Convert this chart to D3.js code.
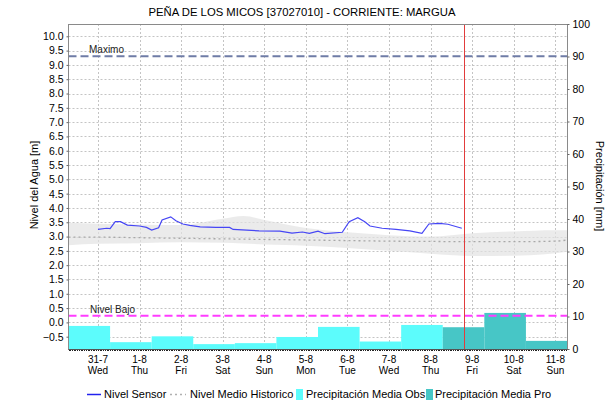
<!DOCTYPE html>
<html>
<head>
<meta charset="utf-8">
<script src="https://cdn.jsdelivr.net/npm/d3@7"></script>
<style>
  html, body { margin: 0; padding: 0; background: #fff; }
  svg { display: block; font-family: "Liberation Sans", Arial, sans-serif; }
</style>
</head>
<body>
<svg id="chart" width="616" height="404"></svg>
<script>
// Station and series
const titleText = "PEÑA DE LOS MICOS [37027010] - CORRIENTE: MARGUA";

// Sensor level readings: hours after 31-7 00:00, level in metres
const sensorHours  = [0, 5, 7, 10, 13, 17, 24, 28, 31, 35, 37, 42, 45, 49, 53, 59, 68, 76, 78, 93, 105, 112, 118, 122, 127, 131, 141, 145, 150, 154, 157, 164, 172, 180, 187, 191, 197, 202, 210];
const sensorLevels = [3.25, 3.29, 3.28, 3.52, 3.52, 3.40, 3.37, 3.32, 3.23, 3.31, 3.58, 3.69, 3.55, 3.44, 3.39, 3.34, 3.32, 3.32, 3.25, 3.20, 3.19, 3.12, 3.16, 3.11, 3.19, 3.10, 3.15, 3.52, 3.66, 3.52, 3.37, 3.29, 3.25, 3.20, 3.11, 3.44, 3.46, 3.43, 3.29];

// Historic mean level and its band
const histHours = [-17, 0, 24, 48, 72, 84, 96, 120, 144, 168, 192, 216, 240, 264, 271];
const histMean  = [2.98, 2.98, 2.96, 2.94, 2.92, 2.91, 2.90, 2.88, 2.86, 2.84, 2.83, 2.82, 2.82, 2.84, 2.88];
const histUpper = [3.48, 3.45, 3.42, 3.40, 3.62, 3.72, 3.58, 3.30, 3.15, 3.05, 3.00, 3.12, 3.18, 3.22, 3.22];
const histLower = [2.70, 2.75, 2.77, 2.80, 2.78, 2.76, 2.72, 2.68, 2.60, 2.50, 2.40, 2.32, 2.33, 2.42, 2.47];

// Daily precipitation (07:00 to 07:00), mm
const precipObs = [7.1, 2.1, 3.9, 1.5, 1.8, 3.7, 6.8, 2.3, 7.4];
const precipPro = [6.7, 11.1, 2.5];

// Reference levels (m)
const nivelMaximo = 9.3;
const nivelBajo = 0.23;

// Current time marker: hours after 31-7 00:00
const nowHour = 211;

const leftTicks = d3.range(-0.5, 10.01, 0.5);
const rightTicks = d3.range(0, 101, 10);

// Layout
const plot = { left: 68.5, right: 567.5, top: 24, bottom: 349 };

const svg = d3.select("#chart");
const base = new Date(2024, 6, 31, 0, 0);
const t = h => d3.timeHour.offset(base, h);
const start = t(-17), end = t(271);

const x = d3.scaleTime().domain([start, end]).range([plot.left, plot.right]);
const yL = d3.scaleLinear().domain([-0.93, 10.43]).range([plot.bottom, plot.top]);
const yR = d3.scaleLinear().domain([0, 100]).range([plot.bottom, plot.top]);
const crisp = v => Math.round(v) + 0.5;

// Title
svg.append("text")
  .attr("x", 302).attr("y", 16)
  .attr("text-anchor", "middle")
  .attr("font-size", 11.3)
  .attr("fill", "#000")
  .text(titleText);

// Grid
const grid = svg.append("g").attr("stroke", "#c4c4c4").attr("stroke-dasharray", "2,2").attr("stroke-width", 1);
leftTicks.forEach(v => {
  grid.append("line")
    .attr("x1", plot.left).attr("x2", plot.right)
    .attr("y1", crisp(yL(v))).attr("y2", crisp(yL(v)));
});
const days = d3.timeDay.range(t(0), t(271));
days.forEach(d => {
  grid.append("line")
    .attr("x1", crisp(x(d))).attr("x2", crisp(x(d)))
    .attr("y1", plot.top).attr("y2", plot.bottom);
});

// Historic band
const histPts = histHours.map((h, i) => ({ d: t(h), m: histMean[i], u: histUpper[i], l: histLower[i] }));
svg.append("path")
  .datum(histPts)
  .attr("fill", "#e3e3e3")
  .attr("fill-opacity", 0.7)
  .attr("d", d3.area().x(p => x(p.d)).y0(p => yL(p.l)).y1(p => yL(p.u)).curve(d3.curveMonotoneX));

// Precipitation bars (right axis)
const barStart = i => d3.timeHour.offset(start, 24 * i);
const bars = svg.append("g");
precipObs.forEach((v, i) => {
  bars.append("rect")
    .attr("x", x(barStart(i))).attr("width", x(barStart(i + 1)) - x(barStart(i)))
    .attr("y", yR(v)).attr("height", yR(0) - yR(v))
    .attr("fill", "#5cfcfc");
});
precipPro.forEach((v, j) => {
  const i = precipObs.length + j;
  bars.append("rect")
    .attr("x", x(barStart(i))).attr("width", x(barStart(i + 1)) - x(barStart(i)))
    .attr("y", yR(v)).attr("height", yR(0) - yR(v))
    .attr("fill", "#47c6c6");
});

// Historic mean line
svg.append("path")
  .datum(histPts)
  .attr("fill", "none")
  .attr("stroke", "#a8a8a8")
  .attr("stroke-width", 1.3)
  .attr("stroke-dasharray", "2,3")
  .attr("d", d3.line().x(p => x(p.d)).y(p => yL(p.m)).curve(d3.curveMonotoneX));

// Sensor level
const sensorPts = sensorHours.map((h, i) => ({ d: t(h), v: sensorLevels[i] }));
svg.append("path")
  .datum(sensorPts)
  .attr("fill", "none")
  .attr("stroke", "#4646f5")
  .attr("stroke-width", 1.2)
  .attr("d", d3.line().x(p => x(p.d)).y(p => yL(p.v)));

// Reference levels
svg.append("line")
  .attr("x1", plot.left).attr("x2", plot.right)
  .attr("y1", yL(nivelMaximo)).attr("y2", yL(nivelMaximo))
  .attr("stroke", "#6f7ca6").attr("stroke-width", 2).attr("stroke-dasharray", "8,4");
svg.append("text")
  .attr("x", 89).attr("y", yL(nivelMaximo) - 3)
  .attr("font-size", 10).attr("fill", "#222").text("Maximo");

svg.append("line")
  .attr("x1", plot.left).attr("x2", plot.right)
  .attr("y1", yL(nivelBajo)).attr("y2", yL(nivelBajo))
  .attr("stroke", "#ff3cff").attr("stroke-width", 2).attr("stroke-dasharray", "8,4");
svg.append("text")
  .attr("x", 90).attr("y", yL(nivelBajo) - 3)
  .attr("font-size", 10).attr("fill", "#222").text("Nivel Bajo");

// Frame
svg.append("rect")
  .attr("x", plot.left).attr("y", plot.top + 0.5)
  .attr("width", plot.right - plot.left).attr("height", plot.bottom - plot.top)
  .attr("fill", "none").attr("stroke", "#8a8a8a").attr("stroke-width", 1);

// Current time marker
svg.append("line")
  .attr("x1", crisp(x(t(nowHour)))).attr("x2", crisp(x(t(nowHour))))
  .attr("y1", plot.top + 1).attr("y2", plot.bottom)
  .attr("stroke", "#e23c3c").attr("stroke-width", 1);

// Left axis
const axL = svg.append("g").attr("transform", `translate(${plot.left},0)`)
  .call(d3.axisLeft(yL).tickValues(leftTicks).tickSize(2).tickPadding(3).tickFormat(d3.format(".1f")));
axL.select(".domain").remove();
axL.selectAll(".tick line").attr("stroke", "#666");
axL.selectAll("text").attr("font-size", 10.5).attr("font-family", "Liberation Sans, Arial, sans-serif").attr("fill", "#000");

// Right axis
const axR = svg.append("g").attr("transform", `translate(${plot.right},0)`)
  .call(d3.axisRight(yR).tickValues(rightTicks).tickSize(2).tickPadding(3));
axR.select(".domain").remove();
axR.selectAll(".tick line").attr("stroke", "#666");
axR.selectAll("text").attr("font-size", 10.5).attr("font-family", "Liberation Sans, Arial, sans-serif").attr("fill", "#000");

// Bottom axis: hourly minor ticks and two-line day labels
const hours = d3.timeHour.range(start, end);
svg.append("g").selectAll("line").data(hours).join("line")
  .attr("x1", d => crisp(x(d))).attr("x2", d => crisp(x(d)))
  .attr("y1", plot.bottom).attr("y2", plot.bottom + 2)
  .attr("stroke", "#222").attr("stroke-width", 1);
svg.append("line")
  .attr("x1", plot.left).attr("x2", plot.right)
  .attr("y1", plot.bottom + 0.5).attr("y2", plot.bottom + 0.5)
  .attr("stroke", "#555");

const fmtDay = d3.timeFormat("%-d-%-m");
const fmtWk = d3.timeFormat("%a");
const xl = svg.append("g").attr("font-size", 10).attr("text-anchor", "middle").attr("fill", "#000");
days.forEach(d => {
  xl.append("text").attr("x", x(d)).attr("y", 363).text(fmtDay(d));
  xl.append("text").attr("x", x(d)).attr("y", 374).text(fmtWk(d));
});

// Axis titles
svg.append("text")
  .attr("transform", "translate(38,185) rotate(-90)")
  .attr("text-anchor", "middle").attr("font-size", 11).attr("fill", "#000")
  .text("Nivel del Agua [m]");
svg.append("text")
  .attr("transform", "translate(596,186) rotate(90)")
  .attr("text-anchor", "middle").attr("font-size", 11).attr("fill", "#000")
  .text("Precipitación [mm]");

// Legend
const lg = svg.append("g").attr("font-size", 11).attr("fill", "#000");
lg.append("line").attr("x1", 87).attr("x2", 101).attr("y1", 394.5).attr("y2", 394.5)
  .attr("stroke", "#2222ee").attr("stroke-width", 1.5);
lg.append("text").attr("x", 104).attr("y", 398).text("Nivel Sensor");
lg.append("line").attr("x1", 170).attr("x2", 186).attr("y1", 394.5).attr("y2", 394.5)
  .attr("stroke", "#b0b0b0").attr("stroke-width", 1.3).attr("stroke-dasharray", "2,3");
lg.append("text").attr("x", 190).attr("y", 398).text("Nivel Medio Historico");
lg.append("rect").attr("x", 296).attr("y", 389).attr("width", 7).attr("height", 11).attr("fill", "#5cfcfc");
lg.append("text").attr("x", 306).attr("y", 398).text("Precipitación Media Obs");
lg.append("rect").attr("x", 426).attr("y", 389).attr("width", 7).attr("height", 11).attr("fill", "#47c6c6");
lg.append("text").attr("x", 435).attr("y", 398).text("Precipitación Media Pro");
</script>
</body>
</html>
